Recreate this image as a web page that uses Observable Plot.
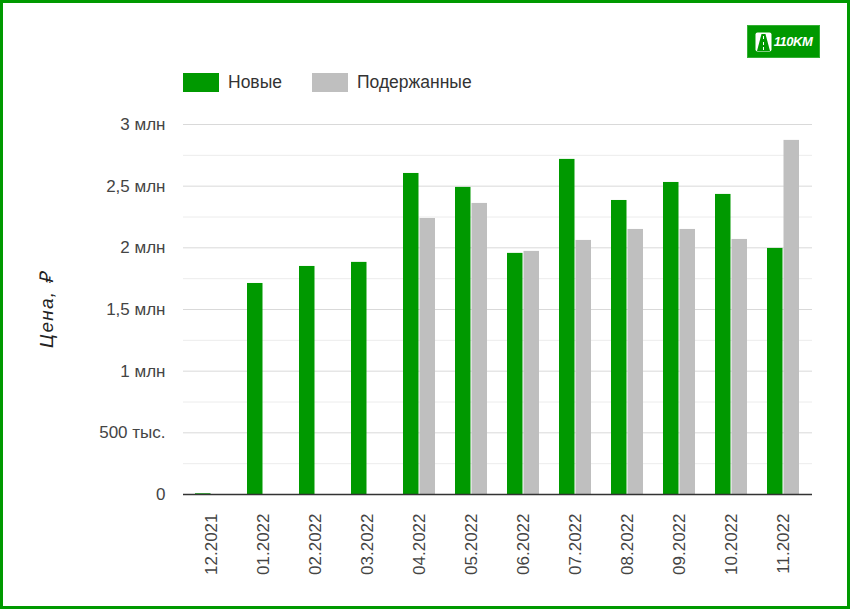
<!DOCTYPE html>
<html><head><meta charset="utf-8">
<script src="https://cdn.jsdelivr.net/npm/d3@7"></script>
<script src="https://cdn.jsdelivr.net/npm/@observablehq/plot@0.6"></script>
<style>
body{margin:0;background:#fff;font-family:"Liberation Sans",Arial,sans-serif;}
#frame{position:relative;width:850px;height:609px;overflow:hidden;background:#fff;}
#border{position:absolute;left:0;top:0;width:850px;height:609px;box-sizing:border-box;border:3px solid #009900;pointer-events:none;}
#chart{position:absolute;left:0;top:0;}
#legend{position:absolute;left:183px;top:72px;display:flex;align-items:center;font-size:17.5px;color:#333;}
.sw{display:inline-block;width:36px;height:19px;margin-right:9px;}
.item{display:flex;align-items:center;margin-right:30px;}
#ylabel{position:absolute;left:46px;top:310px;transform:translate(-50%,-50%) rotate(-90deg);font-style:italic;font-size:19px;letter-spacing:1.2px;color:#222;white-space:nowrap;}
#logo{position:absolute;left:747px;top:25px;width:73px;height:33px;background:#009900;box-sizing:border-box;border:1px solid #33b033;display:flex;align-items:center;justify-content:center;color:#fff;font-weight:bold;font-style:italic;font-size:13px;letter-spacing:-0.5px;}
#logo svg{margin-right:2px;}
</style></head>
<body>
<div id="frame">
  <div id="chart"></div>
  <div id="legend"></div>
  <div id="ylabel">Цена, ₽</div>
  <div id="logo"><svg width="17" height="20" viewBox="0 0 17 20"><rect x="0.5" y="0.5" width="16" height="19" rx="2" fill="#fff"/><path d="M6.5 2 L10.5 2 L15 19 L2 19 Z" fill="#009900"/><path d="M8.5 4 L8.5 7 M8.5 10 L8.5 13 M8.5 15 L8.5 18" stroke="#fff" stroke-width="1"/></svg>110KM</div>
  <div id="border"></div>
</div>
<script>
const months = ["12.2021","01.2022","02.2022","03.2022","04.2022","05.2022","06.2022","07.2022","08.2022","09.2022","10.2022","11.2022"];
const newPrices  = [6000, 1711000, 1849000, 1882000, 2603000, 2490000, 1955000, 2717000, 2384000, 2530000, 2433000, 1995000];
const usedPrices = [0, 0, 0, 0, 2238000, 2360000, 1971000, 2060000, 2149000, 2149000, 2068000, 2871000];
const seriesNames = ["Новые", "Подержанные"];
const seriesColors = ["#009900", "#bfbfbf"];
const yTicks = [0, 500000, 1000000, 1500000, 2000000, 2500000, 3000000];
const yTickLabels = ["0", "500 тыс.", "1 млн", "1,5 млн", "2 млн", "2,5 млн", "3 млн"];
const minorTicks = [250000, 750000, 1250000, 1750000, 2250000, 2750000];

const table = months.map((m, i) => ({month: m, neu: newPrices[i], used: usedPrices[i]}));

const chart = Plot.plot({
  width: 850, height: 609,
  marginLeft: 183, marginRight: 38, marginTop: 124, marginBottom: 115,
  style: {fontFamily: '"Liberation Sans", Arial, sans-serif', fontSize: "17px", color: "#444", background: "transparent"},
  x: {domain: months, paddingInner: 0.38, paddingOuter: 0.19, label: null, tickRotate: -90, tickSize: 0, tickPadding: 19},
  y: {domain: [0, 3000000], ticks: yTicks, tickFormat: d => yTickLabels[yTicks.indexOf(d)], tickSize: 0, tickPadding: 18, label: null},
  marks: [
    Plot.ruleY(minorTicks, {stroke: "#ececec"}),
    Plot.ruleY(yTicks.slice(1), {stroke: "#d9d9d9"}),
    Plot.barY(table, {x: "month", y: "neu", fill: seriesColors[0], insetRight: 16.5, insetLeft: 0}),
    Plot.barY(table, {x: "month", y: "used", fill: seriesColors[1], insetLeft: 16.5, insetRight: 0}),
    Plot.ruleY([0], {stroke: "#333", strokeWidth: 1.5})
  ]
});
document.getElementById("chart").appendChild(chart);

const legend = document.getElementById("legend");
seriesNames.forEach((name, i) => {
  const item = document.createElement("div");
  item.className = "item";
  const sw = document.createElement("span");
  sw.className = "sw";
  sw.style.background = seriesColors[i];
  item.appendChild(sw);
  item.appendChild(document.createTextNode(name));
  legend.appendChild(item);
});
</script>
</body></html>
